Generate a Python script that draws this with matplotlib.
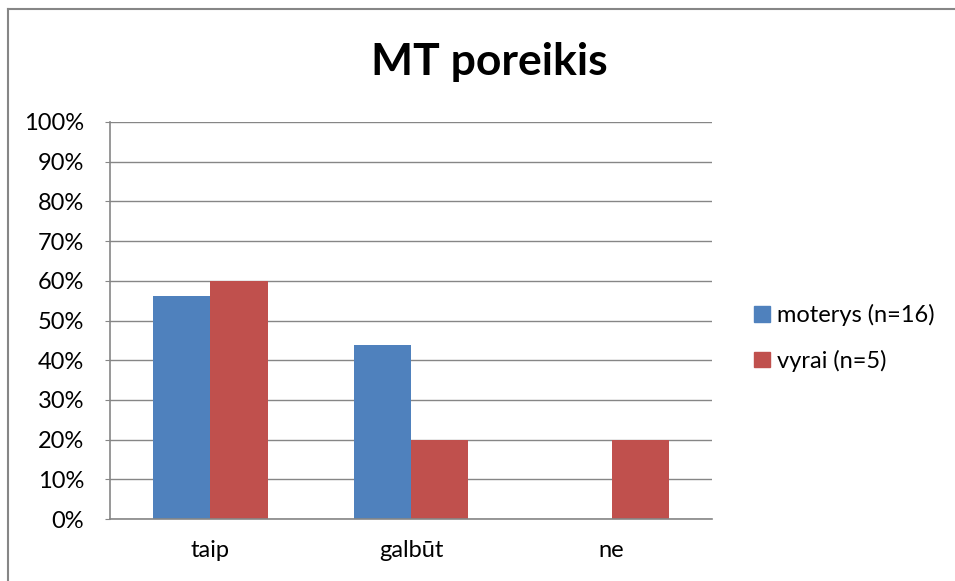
import numpy as np
import matplotlib.pyplot as plt
from matplotlib.lines import Line2D
from matplotlib.patches import Patch
from matplotlib.ticker import PercentFormatter

# ================= DATA =================
categories = ["taip", "galbūt", "ne"]
moterys = [56.25, 43.75, 0.0]
vyrai = [60.0, 20.0, 20.0]
series_names = ["moterys (n=16)", "vyrai (n=5)"]
# ========================================

BLUE = "#4f81bd"
RED = "#c0504d"
GRID = "#868686"

plt.rcParams["font.family"] = ["Lato", "DejaVu Sans"]

fig = plt.figure(figsize=(9.55, 5.81), dpi=100)
ax = fig.add_axes([110 / 955, 1 - 519 / 581, 602 / 955, 397 / 581])

x = np.arange(len(categories))
w = 1 / 3.5
ax.bar(x - w / 2, moterys, width=w, color=BLUE, label=series_names[0])
ax.bar(x + w / 2, vyrai, width=w, color=RED, label=series_names[1])

ax.set_xlim(-0.5, len(categories) - 0.5)
ax.set_ylim(0, 100)
ax.set_yticks(np.arange(0, 101, 10))
ax.yaxis.set_major_formatter(PercentFormatter(decimals=0))
ax.set_xticks(x)
ax.set_xticklabels(categories)
ax.grid(axis="y", color=GRID, linewidth=1)
ax.set_axisbelow(True)

for side in ["top", "right"]:
    ax.spines[side].set_visible(False)
for side in ["left", "bottom"]:
    ax.spines[side].set_color(GRID)
    ax.spines[side].set_linewidth(1.2)

ax.tick_params(axis="y", length=3.6, color=GRID, labelsize=17, pad=15)
ax.tick_params(axis="x", length=0, labelsize=17, pad=15)

fig.text(489 / 955, 1 - 62 / 581, "MT poreikis", fontsize=32, fontweight="bold",
         ha="center", va="center")

handles = [Patch(color=BLUE), Patch(color=RED)]
fig.legend(handles, series_names, loc="center left", bbox_to_anchor=(733 / 955, 1 - 338 / 581),
           frameon=False, fontsize=17, handlelength=0.65, handleheight=0.65,
           handletextpad=0.3, labelspacing=1.0)

# outer chart border (left and top edges visible)
fig.add_artist(Line2D([8 / 955, 8 / 955], [0, 1 - 9 / 581], transform=fig.transFigure,
                      color=GRID, linewidth=1.5))
fig.add_artist(Line2D([8 / 955, 1], [1 - 9 / 581, 1 - 9 / 581], transform=fig.transFigure,
                      color=GRID, linewidth=1.5))

fig.savefig("out.png", dpi=100)
